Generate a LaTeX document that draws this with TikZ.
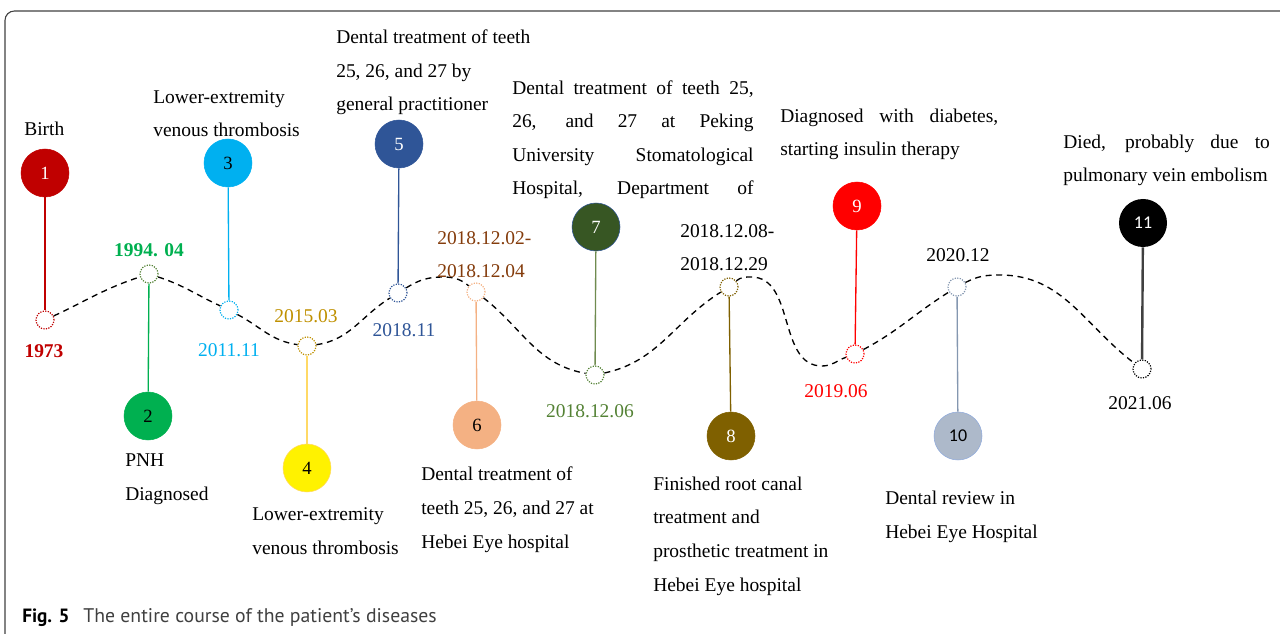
\documentclass[tikz,border=0pt]{standalone}
\usepackage{fontspec}
\setmainfont{Liberation Serif}
\setsansfont{PT Sans}
\newfontfamily\numfont{Carlito}
\usetikzlibrary{positioning}

\definecolor{darkred}{HTML}{C00000}
\definecolor{pnhgreen}{HTML}{00B050}
\definecolor{oliveg}{HTML}{548235}
\definecolor{skyblue}{HTML}{00B0F0}
\definecolor{goldtext}{HTML}{BF9000}
\definecolor{paleyel}{HTML}{FFD966}
\definecolor{navy}{HTML}{2F5597}
\definecolor{salmon}{HTML}{F4B183}
\definecolor{rust}{HTML}{843C0C}
\definecolor{forest}{HTML}{375623}
\definecolor{moss}{HTML}{6F8B4F}
\definecolor{umber}{HTML}{7F6000}
\definecolor{slate}{HTML}{ADB9CA}
\definecolor{slateline}{HTML}{8497B0}
\definecolor{slateedge}{HTML}{8FAADC}
\definecolor{stemgray}{HTML}{404040}

\begin{document}
\begin{tikzpicture}[x=0.75pt, y=-0.75pt,
        event/.style={circle, minimum size=36pt, inner sep=0pt, font=\fontsize{14}{14}\selectfont},
        dot/.style={circle, draw, line width=0.9pt, dash pattern=on 0.9pt off 1pt, fill=white, minimum size=13.5pt, inner sep=0pt},
        stem/.style={draw, line width=1pt},
        note/.style={anchor=base west, align=left, inner sep=0pt, font=\fontsize{14.6}{25.2}\selectfont},
        date/.style={anchor=base, inner sep=0pt, font=\fontsize{14.6}{25.2}\selectfont},
        course/.style={draw, line width=1pt, dash pattern=on 4.5pt off 3.5pt}
    ]
        \useasboundingbox (0,0) rectangle (1280,634);
        \draw[stemgray, line width=0.8pt, rounded corners=7pt] (5,650) -- (5,11) -- (1300,11);

        % Nodes
        \node[event, fill=darkred, draw=darkred, text=white] (n1) at (45,173) {1};
        \node[event, fill=pnhgreen, draw=pnhgreen] (n2) at (148,416) {2};
        \node[event, fill=skyblue, draw=skyblue] (n3) at (228,163) {3};
        \node[event, fill=yellow, draw=paleyel] (n4) at (307,468) {4};
        \node[event, fill=navy, draw=navy, text=white] (n5) at (399,144) {5};
        \node[event, fill=salmon, draw=salmon] (n6) at (477,425) {6};
        \node[event, fill=forest, draw=navy, text=white] (n7) at (596,227) {7};
        \node[event, fill=umber, draw=umber, text=white] (n8) at (731,436) {8};
        \node[event, fill=red, draw=red, text=white] (n9) at (857,206) {9};
        \node[event, fill=slate, draw=slateedge, font=\numfont\fontsize{13.5}{13.5}\selectfont] (n10) at (958,436) {10};
        \node[event, fill=black, text=white, font=\numfont\fontsize{13.5}{13.5}\selectfont] (n11) at (1143,223) {11};

        \node[dot, draw=darkred] (d1) at (45,320) {};
        \node[dot, draw=oliveg] (d2) at (149,274) {};
        \node[dot, draw=skyblue] (d3) at (229,310) {};
        \node[dot, draw=goldtext] (d4) at (307,346) {};
        \node[dot, draw=navy] (d5) at (398,293) {};
        \node[dot, draw=salmon] (d6) at (476,292) {};
        \node[dot, draw=oliveg] (d7) at (595,375) {};
        \node[dot, draw=umber] (d8) at (729,287) {};
        \node[dot, draw=red] (d9) at (855,354) {};
        \node[dot, draw=slateline] (d10) at (957,287) {};
        \node[dot, draw=black] (d11) at (1142,369) {};

        \coordinate (p1) at (443,277);
        \coordinate (p2) at (751,277);
        \coordinate (p3) at (822,366);
        \coordinate (p4) at (1000,275);

        % Course of disease
        \draw[course] (d1) to[out=25,in=198] (d2)
            to[out=-18,in=155] (d3)
            to[out=-28,in=172] (d4)
            to[out=8,in=212] (d5)
            to[out=32,in=180] (p1)
            to[out=0,in=140] (d6)
            to[out=-38,in=170] (d7)
            to[out=12,in=212] (d8)
            to[out=40,in=180] (p2)
            to[out=0,in=180] (p3)
            to[out=0,in=200] (d9)
            to[out=28,in=212] (d10)
            to[out=28,in=180] (p4)
            to[out=0,in=143] (d11);

        % Edges
        \draw[stem, darkred] (n1) -- (d1);
        \draw[stem, pnhgreen] (d2) -- (n2);
        \draw[stem, skyblue] (n3) -- (d3);
        \draw[stem, paleyel] (d4) -- (n4);
        \draw[stem, navy] (n5) -- (d5);
        \draw[stem, salmon] (d6) -- (n6);
        \draw[stem, moss] (n7) -- (d7);
        \draw[stem, umber] (d8) -- (n8);
        \draw[stem, red] (n9) -- (d9);
        \draw[stem, slateline] (d10) -- (n10);
        \draw[stem, stemgray, line width=1.8pt] (n11) -- (d11);

        % Dates
        \node[date, darkred, font=\bfseries\fontsize{14.6}{25.2}\selectfont] (t1) at (44,357) {1973};
        \node[date, pnhgreen, font=\bfseries\fontsize{14.6}{25.2}\selectfont] (t2) at (149,257) {1994. 04};
        \node[date, skyblue] (t3) at (229,356) {2011.11};
        \node[date, goldtext] (t4) at (306,323) {2015.03};
        \node[date, navy] (t5) at (404,336) {2018.11};
        \node[note, rust] (t6) at (437,278) {2018.12.02-\\2018.12.04};
        \node[date, oliveg] (t7) at (590,417) {2018.12.06};
        \node[note] (t8) at (680,271) {2018.12.08-\\2018.12.29};
        \node[date, red] (t9) at (836,397) {2019.06};
        \node[date] (t10) at (958,262) {2020.12};
        \node[date] (t11) at (1140,409) {2021.06};

        % Events
        \node[note] (e1) at (24,136) {Birth};
        \node[note] (e2) at (125,500) {PNH\\Diagnosed};
        \node[note] (e3) at (153,137) {Lower-extremity\\venous thrombosis};
        \node[note] (e4) at (252,554) {Lower-extremity\\venous thrombosis};
        \node[note] (e5) at (336,111) {Dental treatment of teeth\\25, 26, and 27 by\\general practitioner};
        \node[note] (e6) at (421,548) {Dental treatment of\\teeth 25, 26, and 27 at\\Hebei Eye hospital};
        \node[note] (e7) at (512,195) {\makebox[181pt][s]{Dental treatment of teeth 25,}\\\makebox[181pt][s]{26, and 27 at Peking}\\\makebox[181pt][s]{University Stomatological}\\\makebox[181pt][s]{Hospital, Department of}};
        \node[note] (e8) at (653,591) {Finished root canal\\treatment and\\prosthetic treatment in\\Hebei Eye hospital};
        \node[note] (e9) at (780,156) {\makebox[163.5pt][s]{Diagnosed with diabetes,}\\starting insulin therapy};
        \node[note] (e10) at (885,538) {Dental review in\\Hebei Eye Hospital};
        \node[note] (e11) at (1063,182) {\makebox[155pt][s]{Died, probably due to}\\pulmonary vein embolism};

        % Caption
        \node[anchor=base west, inner sep=0pt, font=\sffamily\bfseries\fontsize{14.4}{16}\selectfont] (fig) at (22,622) {Fig. 5};
        \node[base right=10pt of fig, inner sep=0pt, font=\sffamily\fontsize{14.8}{16}\selectfont, text=stemgray] (cap) {The entire course of the patient’s diseases};
\end{tikzpicture}
\end{document}
